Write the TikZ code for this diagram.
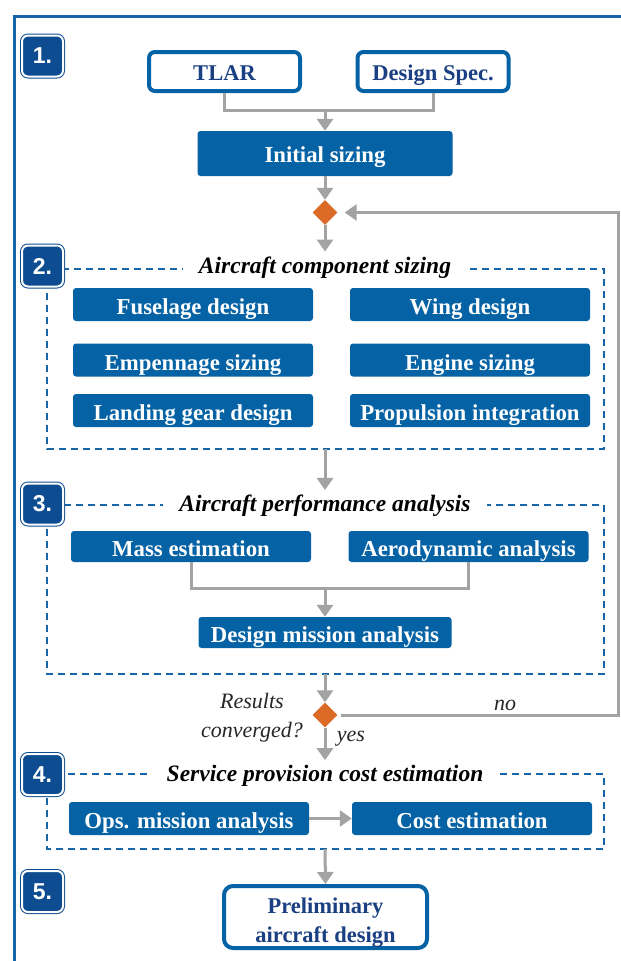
\documentclass[tikz,border=0pt]{standalone}
\usepackage{fontspec}
\setmainfont{Liberation Serif}
\newfontfamily\badgefont{Liberation Sans}
\usetikzlibrary{shapes.geometric,arrows.meta}
\definecolor{boxblue}{HTML}{0562A4}
\definecolor{badgeblue}{HTML}{0D4C91}
\definecolor{frameblue}{HTML}{1565A8}
\definecolor{arrgray}{HTML}{A3A3A3}
\definecolor{dorange}{HTML}{DB6A27}
\definecolor{navy}{HTML}{1A3F82}
\tikzset{
  proc/.style={fill=boxblue, rounded corners=3pt, text=white,
    font=\bfseries\fontsize{22.8}{24}\selectfont,
    minimum width=240pt, minimum height=33pt, inner sep=0pt,
    text height=21pt, text depth=1pt},
  inbox/.style={draw=boxblue, line width=4pt, fill=white, rounded corners=6pt,
    text=navy, font=\bfseries\fontsize{22.5}{29}\selectfont,
    minimum width=151pt, minimum height=39pt, inner sep=0pt, align=center,
    text height=18pt, text depth=1pt},
  badge/.style={fill=badgeblue, draw=badgeblue, double=white, double distance=2pt,
    line width=1pt, rounded corners=6pt, minimum width=41pt, minimum height=41pt,
    text=white, font=\badgefont\bfseries\fontsize{23}{24}\selectfont, inner sep=0pt},
  ttl/.style={fill=white, font=\bfseries\itshape\fontsize{23.5}{24}\selectfont,
    inner xsep=16pt, inner ysep=5pt},
  note/.style={font=\itshape\fontsize{22}{29}\selectfont, text=black!85, align=center, inner sep=0pt},
  arr/.style={draw=arrgray, line width=3pt, -{Triangle[width=16pt,length=12pt]}},
  conn/.style={draw=arrgray, line width=3pt},
  dbox/.style={draw=frameblue, line width=1.3pt, dash pattern=on 7pt off 5pt},
  dec/.style={diamond, fill=dorange, minimum width=25pt, minimum height=25pt, inner sep=0pt},
}
\begin{document}
\begin{tikzpicture}[x=1pt,y=-1pt]
\useasboundingbox (0,0) rectangle (621,961);
% outer frame
\draw[frameblue, line width=3pt] (14,975) -- (14,16) -- (635,16);

% section 1
\node[inbox] (tlar) at (224.5,71.5) {TLAR};
\node[inbox] (spec) at (433,71.5) {Design Spec.};
\node[proc, minimum width=255pt, minimum height=45pt, text height=19pt] (init) at (325,153.5) {Initial sizing};
\node[dec] (d1) at (325,212.5) {};
\coordinate (j1) at (325,110);
\draw[conn] (tlar.south) |- (j1) -| (spec.south);
\draw[arr] (j1) -- (init.north);
\draw[arr] (init.south) -- (d1.north);

% section 2
\draw[dbox] (47,269) rectangle (604,449);
\node[ttl] (t2) at (325,267.5) {Aircraft component sizing};
\draw[arr] (d1.south) -- (t2.north);
\node[proc] (fus) at (193,304.5) {Fuselage design};
\node[proc] (wing) at (470,304.5) {Wing design};
\node[proc] (emp) at (193,360) {Empennage sizing};
\node[proc] (eng) at (470,360) {Engine sizing};
\node[proc] (lg) at (193,410.5) {Landing gear design};
\node[proc] (prop) at (470,410.5) {Propulsion integration};

% section 3
\draw[dbox] (47,505) rectangle (604,674);
\node[ttl] (t3) at (325,506) {Aircraft performance analysis};
\coordinate (b2) at (325,449);
\draw[arr] (b2) -- (t3.north);
\node[proc, minimum height=31pt] (mass) at (191,546.5) {Mass estimation};
\node[proc, minimum height=31pt] (aero) at (468.5,546.5) {Aerodynamic analysis};
\node[proc, minimum width=253pt, minimum height=31pt] (dma) at (325,632.5) {Design mission analysis};
\coordinate (j3) at (325,588);
\draw[conn] (mass.south) |- (j3) -| (aero.south);
\draw[arr] (j3) -- (dma.north);

% convergence check
\node[dec] (d2) at (325,715) {};
\coordinate (b3) at (325,674);
\draw[arr] (b3) -- (d2.north);
\node[note] (res) at (252,718) {Results\\converged?};
\coordinate (fb) at (618,715);
\draw[arr, shorten <=3pt, shorten >=7pt] (d2.east) -- (fb) |- (d1.east);
\node[note] (no) at (505,705) {no};

% section 4
\draw[dbox] (47,774) rectangle (604,849);
\node[ttl] (t4) at (325,776) {Service provision cost estimation};
\draw[arr] (d2.south) -- (t4.north);
\node[note] (yes) at (351,739) {yes};
\node[proc] (ops) at (189,818.5) {Ops. mission analysis};
\node[proc] (cost) at (472,818.5) {Cost estimation};
\draw[arr] (ops.east) -- (cost.west);

% section 5
\node[inbox, minimum width=203pt, minimum height=62pt, rounded corners=9pt,
      text height=50pt, text depth=0pt] (prelim) at (325.5,917) {Preliminary\\aircraft design};
\coordinate (b4) at (325,849);
\draw[arr] (b4) -- (prelim.north);

% badges
\node[badge] (n1) at (42.5,56) {1.};
\node[badge] (n2) at (42.5,266) {2.};
\node[badge] (n3) at (42.5,504) {3.};
\node[badge] (n4) at (42.5,774.5) {4.};
\node[badge] (n5) at (42.5,891.5) {5.};
\end{tikzpicture}
\end{document}
